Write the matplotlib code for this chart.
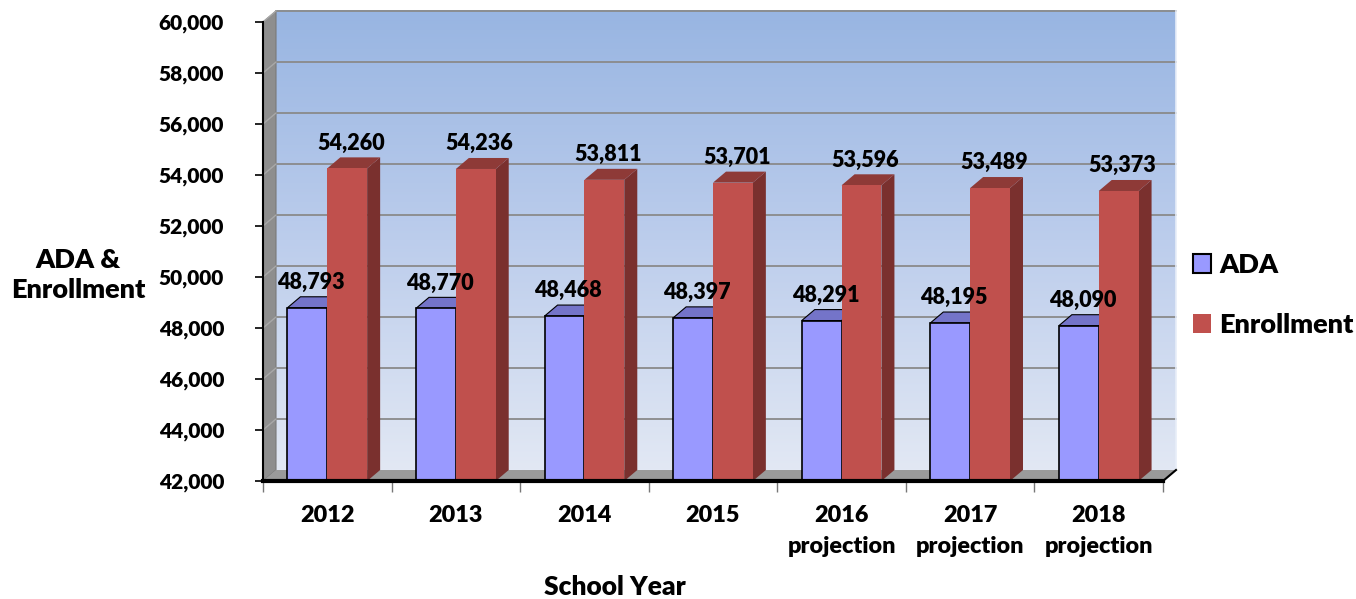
import numpy as np
import matplotlib
matplotlib.use("Agg")
import matplotlib.pyplot as plt
from matplotlib.patches import Polygon, Patch
from matplotlib.colors import LinearSegmentedColormap

plt.rcParams['font.family'] = ['Lato', 'DejaVu Sans']
WEIGHT = 'heavy'
plt.rcParams['font.weight'] = WEIGHT

categories = ["2012", "2013", "2014", "2015", "2016\nprojection", "2017\nprojection", "2018\nprojection"]
ada = [48793, 48770, 48468, 48397, 48291, 48195, 48090]
enrollment = [54260, 54236, 53811, 53701, 53596, 53489, 53373]
yticks = list(range(42000, 60001, 2000))
series_names = ["ADA", "Enrollment"]

W, H = 1356, 599
fig = plt.figure(figsize=(W / 100, H / 100), dpi=100)
fig.patch.set_facecolor("white")
ax = fig.add_axes([263 / W, (H - 481) / H, 900 / W, 459 / H])
ymin, ymax = 42000, 60000
n = len(categories)
x = np.arange(n)
ax.set_xlim(-0.5, n - 0.5)
ax.set_ylim(ymin, ymax)
ax.patch.set_visible(False)

# depth offsets in data units (3D look)
dx = 13 / (900 / n)
dy = 11 / (459 / (ymax - ymin))

# back wall gradient
grad = np.linspace(0, 1, 256).reshape(-1, 1)
cmap = LinearSegmentedColormap.from_list("wall", ["#e2e8f4", "#bccdec", "#98b5e2"])
ax.imshow(grad, cmap=cmap, origin="lower", aspect="auto",
          extent=(-0.5 + dx, n - 0.5 + dx, ymin + dy, ymax + dy),
          zorder=0, clip_on=False)
ax.set_xlim(-0.5, n - 0.5)
ax.set_ylim(ymin, ymax)

# back wall grid lines
for v in yticks[1:]:
    ax.plot([-0.5 + dx, n - 0.5 + dx], [v + dy, v + dy], color="#8a8a8a", lw=1.3, zorder=1, clip_on=False)
# left wall
ax.add_patch(Polygon([(-0.5, ymin), (-0.5, ymax), (-0.5 + dx, ymax + dy), (-0.5 + dx, ymin + dy)],
                     closed=True, facecolor="#8e8e8e", edgecolor="#7a7a7a", lw=0.8, zorder=1, clip_on=False))
for v in yticks[1:]:
    ax.plot([-0.5, -0.5 + dx], [v, v + dy], color="#a8a8a8", lw=1.0, zorder=1.1, clip_on=False)
# floor
ax.add_patch(Polygon([(-0.5, ymin), (n - 0.5, ymin), (n - 0.5 + dx, ymin + dy), (-0.5 + dx, ymin + dy)],
                     closed=True, facecolor="#9a9a9a", edgecolor="none", zorder=1, clip_on=False))
ax.plot([n - 0.5, n - 0.5 + dx], [ymin, ymin + dy], color="black", lw=1.5, zorder=5, clip_on=False)
ax.plot([n - 0.5 + dx, n - 0.5 + dx], [ymin + dy, ymax + dy], color="#e8eef8", lw=1.2, zorder=1.2, clip_on=False)

bw = 0.31
series = [
    (ada, x - bw / 2, "#9999ff", "#7474c9", "#5c5ca8", "black"),
    (enrollment, x + bw / 2, "#c0504d", "#8e3a37", "#7a302e", "none"),
]
for si, (vals, xs, front, top, side, edge) in enumerate(series):
    z = 3 + si
    for xc, v in zip(xs, vals):
        l, r = xc - bw / 2, xc + bw / 2
        ax.add_patch(Polygon([(r, ymin), (r + dx, ymin + dy), (r + dx, v + dy), (r, v)], closed=True,
                             facecolor=side, edgecolor="none", zorder=z - 0.2))
        ax.add_patch(Polygon([(l, v), (r, v), (r + dx, v + dy), (l + dx, v + dy)], closed=True,
                             facecolor=top, edgecolor=("black" if edge == "black" else "none"), lw=0.8,
                             zorder=z - 0.1))
    ax.bar(xs, np.array(vals) - ymin, bottom=ymin, width=bw, color=front,
           edgecolor=edge, linewidth=1.2 if edge != "none" else 0, zorder=z)

# data labels
for vals, xs in [(ada, x - bw / 2), (enrollment, x + bw / 2)]:
    for xc, v in zip(xs, vals):
        ax.text(xc + dx * 0.3, v + dy + 150, f"{v:,}", ha="center", va="bottom",
                fontsize=15.5, fontweight=WEIGHT, color="black", zorder=10)

# axes styling
for s in ["top", "right"]:
    ax.spines[s].set_visible(False)
ax.spines["left"].set_color("black")
ax.spines["left"].set_linewidth(1.5)
ax.spines["bottom"].set_color("black")
ax.spines["bottom"].set_linewidth(3)
ax.spines["left"].set_zorder(6)
ax.spines["bottom"].set_zorder(6)

ax.set_yticks(yticks)
ax.set_yticklabels([f"{v:,}" for v in yticks], fontsize=15, fontweight=WEIGHT)
ax.tick_params(axis="y", direction="out", length=6, width=1.2, color="black", pad=22)

ax.set_xticks(np.arange(-0.5, n, 1.0))
ax.set_xticklabels([""] * (n + 1))
ax.tick_params(axis="x", which="major", direction="out", length=8, width=1, color="#777777")
ax.set_xticks(x, minor=True)
ax.set_xticklabels(categories, minor=True, fontsize=16.8, fontweight=WEIGHT)
ax.tick_params(axis="x", which="minor", length=0, pad=17)
for lab in ax.get_xticklabels(minor=True):
    lab.set_linespacing(1.62)

fig.text(78 / W, 1 - 275 / H, "ADA &\nEnrollment", ha="center", va="center",
         fontsize=19.5, fontweight=WEIGHT, linespacing=1.3)
fig.text(615 / W, 1 - 587 / H, "School Year", ha="center", va="center",
         fontsize=19, fontweight=WEIGHT)

handles = [Patch(facecolor="#9999ff", edgecolor="black", linewidth=1.5),
           Patch(facecolor="#c0504d", edgecolor="none")]
fig.legend(handles, series_names, loc="center left", bbox_to_anchor=(1193 / W, 1 - 295 / H),
           frameon=False, borderpad=0, borderaxespad=0, handlelength=0.68, handleheight=0.68,
           handletextpad=0.3, labelspacing=1.35, prop={"size": 19.5, "weight": WEIGHT})

fig.savefig("out.png", dpi=100)
